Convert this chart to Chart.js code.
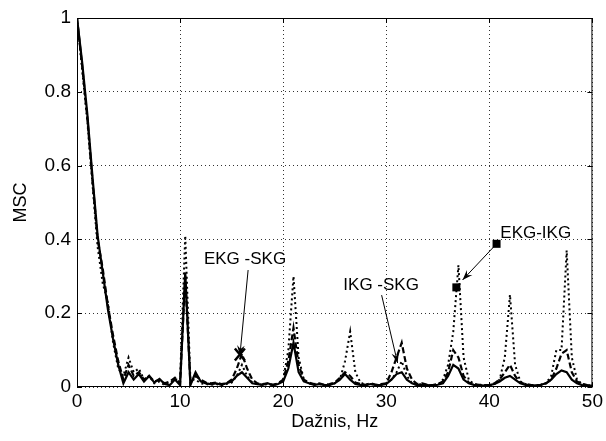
<!DOCTYPE html>
<html><head><meta charset="utf-8">
<script src="https://cdn.jsdelivr.net/npm/chart.js@4/dist/chart.umd.min.js"></script>
<style>html,body{margin:0;padding:0;background:#fff}</style>
</head><body>
<canvas id="c" width="606" height="441"></canvas>
<script>
// Frequency axis (Hz)
const freq = [0,0.5,1,1.5,2,2.5,3,3.5,4,4.5,5,5.5,6,6.5,7,7.5,8,8.5,9,9.5,
10,10.5,11,11.5,12,12.5,13,13.5,14,14.5,15,15.5,16,16.5,17,17.5,18,18.5,19,19.5,
20,20.5,21,21.5,22,22.5,23,23.5,24,24.5,25,25.5,26,26.5,27,27.5,28,28.5,29,29.5,
30,30.5,31,31.5,32,32.5,33,33.5,34,34.5,35,35.5,36,36.5,37,37.5,38,38.5,39,39.5,
40,40.5,41,41.5,42,42.5,43,43.5,44,44.5,45,45.5,46,46.5,47,47.5,48,48.5,49,49.5,50];

// MSC, solid line
const mscEkgSkg = [1.0,0.88,0.74,0.57,0.41,0.31,0.21,0.13,0.06,0.01,0.04,0.02,0.035,0.015,0.03,0.012,0.022,0.008,0.005,0.02,
0.005,0.31,0.005,0.04,0.015,0.01,0.008,0.01,0.006,0.01,0.015,0.03,0.04,0.025,0.01,0.008,0.006,0.01,0.005,0.008,
0.015,0.05,0.12,0.04,0.015,0.01,0.006,0.008,0.005,0.006,0.01,0.02,0.035,0.02,0.008,0.006,0.005,0.008,0.005,0.006,
0.008,0.02,0.035,0.04,0.02,0.01,0.005,0.006,0.005,0.004,0.006,0.01,0.03,0.06,0.05,0.02,0.01,0.006,0.005,0.004,
0.005,0.008,0.015,0.025,0.03,0.02,0.01,0.006,0.005,0.004,0.006,0.01,0.02,0.035,0.045,0.04,0.02,0.01,0.005,0.004,0.003];

// MSC, dashed line
const mscIkgSkg = [1.0,0.87,0.73,0.56,0.40,0.32,0.22,0.14,0.07,0.02,0.06,0.03,0.04,0.02,0.03,0.015,0.02,0.01,0.015,0.025,
0.01,0.30,0.01,0.03,0.02,0.012,0.01,0.012,0.008,0.01,0.02,0.05,0.09,0.05,0.02,0.01,0.008,0.01,0.006,0.01,
0.02,0.07,0.16,0.06,0.02,0.012,0.008,0.01,0.006,0.008,0.012,0.025,0.04,0.03,0.012,0.008,0.006,0.01,0.006,0.008,
0.01,0.04,0.08,0.12,0.05,0.02,0.008,0.01,0.006,0.005,0.008,0.015,0.04,0.10,0.08,0.03,0.012,0.008,0.006,0.005,
0.006,0.01,0.02,0.04,0.06,0.03,0.012,0.008,0.006,0.005,0.006,0.01,0.02,0.05,0.09,0.10,0.04,0.015,0.008,0.005,0.004];

// MSC, dotted line
const mscEkgIkg = [1.0,0.86,0.72,0.55,0.38,0.28,0.23,0.12,0.05,0.03,0.08,0.04,0.05,0.02,0.03,0.01,0.015,0.005,0.01,0.02,
0.02,0.41,0.02,0.02,0.01,0.008,0.006,0.008,0.005,0.008,0.012,0.03,0.06,0.03,0.012,0.008,0.006,0.008,0.005,0.008,
0.02,0.10,0.30,0.08,0.02,0.01,0.006,0.008,0.005,0.006,0.01,0.02,0.07,0.15,0.04,0.012,0.006,0.008,0.005,0.006,
0.01,0.02,0.04,0.07,0.03,0.01,0.006,0.008,0.005,0.004,0.006,0.02,0.06,0.15,0.33,0.08,0.02,0.008,0.005,0.004,
0.005,0.008,0.02,0.08,0.25,0.06,0.015,0.008,0.005,0.004,0.006,0.01,0.03,0.10,0.10,0.37,0.08,0.02,0.008,0.005,0.004];

const xTicks = [0,10,20,30,40,50];
const yTicks = [0,0.2,0.4,0.6,0.8,1];

const pts = arr => freq.map((f,i)=>({x:f,y:arr[i]}));
const FONT = 'Liberation Sans, Arial, sans-serif';

const frame = {
  id:'frame',
  afterDatasetsDraw(chart){
    const {ctx, chartArea:a, scales:{x,y}} = chart;
    ctx.save();
    ctx.strokeStyle='#000'; ctx.lineWidth=1;
    ctx.strokeRect(a.left+0.5,a.top+0.5,a.right-a.left-1,a.bottom-a.top-1);
    ctx.beginPath();
    xTicks.forEach(t=>{const px=Math.round(x.getPixelForValue(t))+0.5;
      ctx.moveTo(px,a.bottom);ctx.lineTo(px,a.bottom-5);ctx.moveTo(px,a.top);ctx.lineTo(px,a.top+5);});
    yTicks.forEach(t=>{const py=Math.round(y.getPixelForValue(t))+0.5;
      ctx.moveTo(a.left,py);ctx.lineTo(a.left+5,py);ctx.moveTo(a.right,py);ctx.lineTo(a.right-5,py);});
    ctx.stroke();

    const P=(fx,vy)=>[x.getPixelForValue(fx),y.getPixelForValue(vy)];
    ctx.fillStyle='#000'; ctx.font='17px '+FONT; ctx.textAlign='center'; ctx.textBaseline='middle';
    let p;
    p=P(16.3,0.347); ctx.fillText('EKG -SKG',p[0],p[1]);
    p=P(29.5,0.276); ctx.fillText('IKG -SKG',p[0],p[1]);
    p=P(44.5,0.417); ctx.fillText('EKG-IKG',p[0],p[1]);
    function arrow(f1,v1,f2,v2){
      const [x1,y1]=P(f1,v1),[x2,y2]=P(f2,v2);
      ctx.beginPath();ctx.lineWidth=1;ctx.moveTo(x1,y1);ctx.lineTo(x2,y2);ctx.stroke();
      const ang=Math.atan2(y2-y1,x2-x1),L=11,W=0.35;
      ctx.beginPath();ctx.moveTo(x2,y2);
      ctx.lineTo(x2-L*Math.cos(ang-W),y2-L*Math.sin(ang-W));
      ctx.lineTo(x2-L*0.6*Math.cos(ang),y2-L*0.6*Math.sin(ang));
      ctx.lineTo(x2-L*Math.cos(ang+W),y2-L*Math.sin(ang+W));
      ctx.closePath();ctx.fill();
    }
    arrow(16.6,0.317,15.8,0.085);
    arrow(29.55,0.249,31.1,0.065);
    arrow(40.7,0.388,37.4,0.29);
    p=P(15.8,0.088); ctx.lineWidth=2.5; ctx.beginPath();
    ctx.moveTo(p[0]-5,p[1]-6);ctx.lineTo(p[0]+5,p[1]+6);ctx.moveTo(p[0]+5,p[1]-6);ctx.lineTo(p[0]-5,p[1]+6);ctx.stroke();
    p=P(40.7,0.388); ctx.fillRect(p[0]-4,p[1]-4,8,8);
    p=P(36.8,0.27); ctx.fillRect(p[0]-4,p[1]-4,8,8);
    ctx.restore();
  }
};

new Chart(document.getElementById('c'),{
  type:'line',
  data:{datasets:[
    {label:'EKG-SKG',data:pts(mscEkgSkg),borderColor:'#000',borderWidth:2.2,pointRadius:0,tension:0},
    {label:'IKG-SKG',data:pts(mscIkgSkg),borderColor:'#000',borderWidth:2.2,borderDash:[6,3],pointRadius:0,tension:0},
    {label:'EKG-IKG',data:pts(mscEkgIkg),borderColor:'#000',borderWidth:2,borderDash:[2,3],pointRadius:0,tension:0}
  ]},
  options:{
    responsive:false,animation:false,
    layout:{padding:{left:10,right:13,top:18,bottom:8}},
    plugins:{legend:{display:false},tooltip:{enabled:false}},
    scales:{
      x:{type:'linear',min:0,max:50,
        afterBuildTicks:ax=>{ax.ticks=xTicks.map(v=>({value:v}));},
        afterFit:ax=>{ax.height=46;},
        border:{display:false,dash:[1,3]},
        grid:{color:'#333',lineWidth:1,drawTicks:false,tickLength:0},
        ticks:{color:'#000',font:{family:FONT,size:19},padding:3,maxRotation:0},
        title:{display:true,text:'Dažnis, Hz',color:'#000',font:{family:FONT,size:18},padding:{top:0,bottom:0}}
      },
      y:{min:0,max:1,
        afterBuildTicks:ax=>{ax.ticks=yTicks.map(v=>({value:v}));},
        afterFit:ax=>{ax.width=67;},
        border:{display:false,dash:[1,3]},
        grid:{color:'#333',lineWidth:1,drawTicks:false,tickLength:0},
        ticks:{color:'#000',font:{family:FONT,size:19},padding:6,callback:v=>String(v)},
        title:{display:true,text:'MSC',color:'#000',font:{family:FONT,size:18},padding:{top:0,bottom:0}}
      }
    }
  },
  plugins:[frame]
});
</script>
</body></html>
